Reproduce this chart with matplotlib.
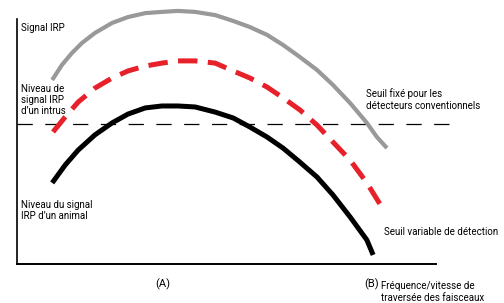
import matplotlib.pyplot as plt

plt.rcParams['font.family'] = ['Roboto', 'DejaVu Sans']
plt.rcParams['lines.scale_dashes'] = False

# courbes (x = fréquence, y = signal IRP)
gris_x = [0.84, 1.07, 1.31, 1.55, 1.86, 2.27, 2.65, 3.06, 3.46, 3.84, 4.25, 4.73,
          5.16, 5.56, 5.97, 6.35, 6.75, 7.16, 7.54, 7.95, 8.35, 8.59, 8.83]
gris_y = [7.51, 8.12, 8.61, 9.02, 9.43, 9.84, 10.08, 10.24, 10.29, 10.33, 10.29, 10.16,
          9.92, 9.67, 9.35, 8.94, 8.45, 7.92, 7.31, 6.57, 5.76, 5.18, 4.73]

rouge_x = [0.86, 1.15, 1.46, 1.86, 2.27, 2.65, 3.06, 3.46, 3.84, 4.25, 4.73,
           5.16, 5.56, 5.97, 6.35, 6.75, 7.16, 7.54, 7.95, 8.35, 8.78]
rouge_y = [5.39, 6.00, 6.61, 7.18, 7.59, 7.88, 8.08, 8.20, 8.29, 8.29, 8.20,
           7.88, 7.59, 7.22, 6.78, 6.29, 5.67, 4.98, 4.24, 3.31, 2.12]

noir_x = [0.84, 1.15, 1.46, 1.86, 2.27, 2.65, 3.06, 3.46, 3.84, 4.25, 4.73,
          5.16, 5.56, 5.97, 6.35, 6.75, 7.16, 7.54, 7.95, 8.35, 8.50]
noir_y = [3.31, 4.04, 4.65, 5.27, 5.76, 6.12, 6.37, 6.45, 6.45, 6.41, 6.20,
          5.96, 5.59, 5.18, 4.73, 4.16, 3.55, 2.82, 1.92, 0.98, 0.37]

seuil_fixe = 5.71
seuil_x = [0, 10.31]

fig = plt.figure(figsize=(5.04, 3.03), dpi=100)
ax = fig.add_axes([17/504, 39/303, 419/504, 245/303])
ax.set_xlim(0, 10)
ax.set_ylim(0, 10)

ax.plot(seuil_x, [seuil_fixe, seuil_fixe], color='black', lw=0.9,
        dashes=(11, 9), clip_on=False)
ax.plot(gris_x, gris_y, color='#999999', lw=3.0, solid_capstyle='butt',
        solid_joinstyle='round', clip_on=False)
ax.plot(rouge_x, rouge_y, color='#e8202a', lw=3.6, dashes=(14, 7.5),
        dash_capstyle='butt', dash_joinstyle='round', clip_on=False)
ax.plot(noir_x, noir_y, color='black', lw=3.6, solid_capstyle='butt',
        solid_joinstyle='round', clip_on=False)

for s in ['top', 'right']:
    ax.spines[s].set_visible(False)
ax.spines['left'].set_linewidth(1.2)
ax.spines['bottom'].set_linewidth(1.4)
ax.set_xticks([])
ax.set_yticks([])

fs = 7
ax.text(0.1, 9.63, "Signal IRP", fontsize=fs, va='center', ha='left')
ax.text(0.1, 6.69, "Niveau de\nsignal IRP\nd’un intrus", fontsize=fs, va='center',
        ha='left', linespacing=1.15)
ax.text(0.1, 2.18, "Niveau du signal\nIRP d’un animal", fontsize=fs, va='center',
        ha='left', linespacing=1.15)
ax.text(8.33, 6.71, "Seuil fixé pour les\ndétecteurs conventionnels", fontsize=fs,
        va='center', ha='left', linespacing=1.15)
ax.text(8.76, 1.31, "Seuil variable de détection", fontsize=fs, va='center', ha='left')
ax.text(3.48, -0.82, "(A)", fontsize=8, va='center', ha='center', clip_on=False)
ax.text(8.29, -0.82, "(B)", fontsize=8, va='center', ha='left', clip_on=False)
ax.text(8.69, -1.14, "Fréquence/vitesse de\ntraversée des faisceaux", fontsize=fs,
        va='center', ha='left', linespacing=1.15, clip_on=False)

fig.savefig("out.png", dpi=100)
